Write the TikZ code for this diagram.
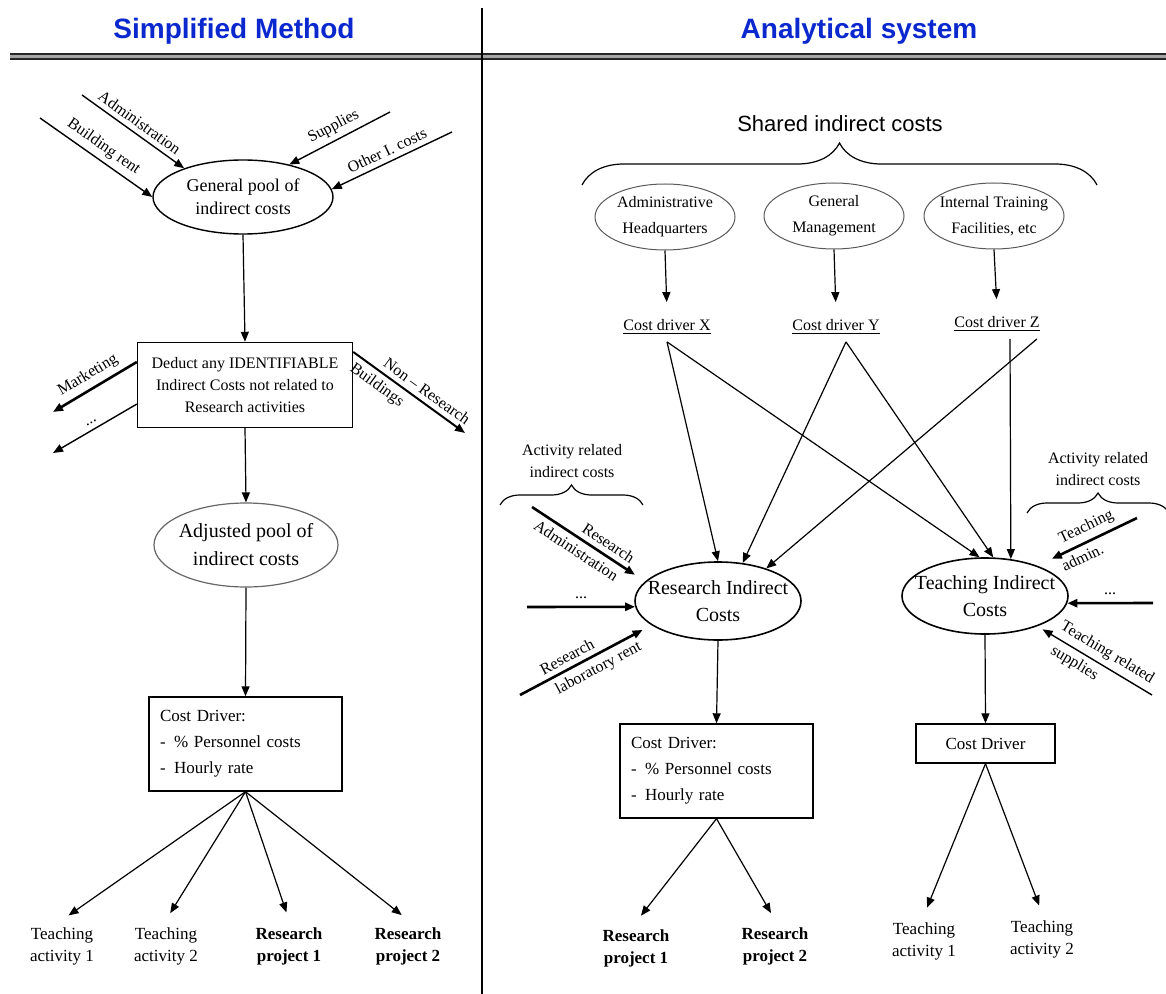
\documentclass[tikz,border=0pt]{standalone}
\usepackage{fontspec}
\setmainfont{Liberation Serif}
\setsansfont{Liberation Sans}
\usetikzlibrary{shapes.geometric, arrows.meta, decorations.pathreplacing}
\definecolor{headblue}{RGB}{10,40,205}

\begin{document}
\begin{tikzpicture}[x=0.5pt, y=-0.5pt, line width=0.6pt,
      >={Triangle[length=5pt,width=4pt]},
      every node/.style={font=\fontsize{8}{11}\selectfont},
      pool/.style={ellipse, draw, align=center, inner xsep=-12pt, inner ysep=-4pt},
      shared/.style={pool, draw=black!65, line width=0.5pt, minimum width=70pt, minimum height=33pt, font=\fontsize{8}{13}\selectfont},
      box/.style={rectangle, draw, line width=0.7pt},
      driver/.style={box, minimum width=96.5pt, minimum height=47pt, text width=85.5pt, inner xsep=5.5pt, align=left, font=\fontsize{8.5}{13}\selectfont},
      leaf/.style={align=center, font=\fontsize{8.5}{11}\selectfont},
      leafb/.style={leaf, font=\bfseries\fontsize{8.5}{11}\selectfont},
      tag/.style={sloped, inner sep=2.5pt, font=\fontsize{8}{10}\selectfont},
      feed/.style={->, line width=0.7pt},
      heavy/.style={->, line width=1.3pt},
      sprout/.style={->, shorten >=4pt},
      head/.style={font=\sffamily\bfseries\fontsize{14}{16}\selectfont, text=headblue},
      brc/.style={decorate, decoration={brace, amplitude=#1}, line width=0.6pt}]

  \useasboundingbox (0,0) rectangle (1166,994);

  % headings and frame
  \node[head] (hs) at (234,31) {Simplified Method};
  \node[head] (ha) at (859,31) {Analytical system};
  \draw[line width=3pt, black!35] (10,56.5) -- (1166,56.5);
  \draw[line width=0.8pt, black!85] (10,54) -- (1166,54) (10,59) -- (1166,59);
  \draw[line width=1pt] (482,8) -- (482,994);

  % simplified method
  \node[pool, minimum width=90pt, minimum height=37pt, line width=0.7pt,
        font=\fontsize{9}{11.5}\selectfont] (gp) at (243,197) {General pool of\\indirect costs};
  \node[box, minimum width=107.5pt, minimum height=42.5pt, align=center,
        font=\fontsize{8}{11.2}\selectfont] (dd) at (245,385)
        {Deduct any IDENTIFIABLE\\Indirect Costs not related to\\Research activities};
  \node[pool, draw=black!60, minimum width=92pt, minimum height=42pt,
        font=\fontsize{10}{14}\selectfont] (ap) at (246,545) {Adjusted pool of\\indirect costs};
  \node[driver] (cd1) at (245.5,744) {Cost Driver:\\-\enspace\% Personnel costs\\-\enspace Hourly rate};
  \node[leaf] (ta1) at (62,946) {Teaching\\activity 1};
  \node[leaf] (ta2) at (166,946) {Teaching\\activity 2};
  \node[leafb] (rp1) at (289,946) {Research\\project 1};
  \node[leafb] (rp2) at (408,946) {Research\\project 2};

  \coordinate (adm) at (82,95);
  \coordinate (bld) at (40,118);
  \coordinate (sup) at (390,112);
  \coordinate (oth) at (452,132);
  \coordinate (mkt) at (53,412);
  \coordinate (dots1) at (53,453);
  \coordinate (nrb) at (465,433);

  \draw[feed] (adm) -- (gp.154) node[midway, tag, above] {Administration};
  \draw[feed] (bld) -- (gp.180) node[midway, tag, above] {Building rent};
  \draw[feed] (sup) -- (gp.35) node[midway, tag, above] {Supplies};
  \draw[feed] (oth) -- (gp.5) node[midway, tag, above] {Other I. costs};
  \draw[->] (gp.south) -- (dd.north);
  \draw[heavy] (dd.168) -- (mkt) node[midway, tag, above] {Marketing};
  \draw[feed] (dd.190) -- (dots1) node[midway, tag, above] {...};
  \draw[->, line width=1pt] (dd.17) -- (nrb) node[pos=0.6, tag, above] {Non -- Research}
        node[pos=0.28, tag, below] {Buildings};
  \draw[->] (dd.south) -- (ap.north);
  \draw[->] (ap.south) -- (cd1.north);
  \draw[sprout] (cd1.south) -- (ta1.north);
  \draw[sprout] (cd1.south) -- (ta2.north);
  \draw[sprout] (cd1.south) -- (rp1.north);
  \draw[sprout] (cd1.south) -- (rp2.north);

  % analytical system
  \node[font=\sffamily\fontsize{11}{13}\selectfont] (sh) at (840,124) {Shared indirect costs};
  \coordinate (shl) at (582,185);
  \coordinate (shr) at (1097,185);
  \draw[brc=21pt] (shl) -- (shr);

  \node[shared] (ah) at (665,217) {Administrative\\Headquarters};
  \node[shared] (gm) at (834,216) {General\\Management};
  \node[shared] (it) at (994,216) {Internal Training\\Facilities, etc};
  \node (cx) at (667,327) {\underline{Cost driver X}};
  \node (cy) at (836,327) {\underline{Cost driver Y}};
  \node (cz) at (997,324) {\underline{Cost driver Z}};

  \node[pool, minimum width=83pt, minimum height=39pt, line width=0.8pt,
        font=\fontsize{10}{13.5}\selectfont] (ri) at (718,601) {Research Indirect\\Costs};
  \node[pool, minimum width=83pt, minimum height=38pt, line width=0.8pt,
        font=\fontsize{10}{13.5}\selectfont] (ti) at (985,596) {Teaching Indirect\\Costs};

  \node[align=center] (ar1) at (572,461) {Activity related\\indirect costs};
  \coordinate (ar1l) at (500,505);
  \coordinate (ar1r) at (643,505);
  \draw[brc=10pt] (ar1l) -- (ar1r);
  \node[align=center] (ar2) at (1098,469) {Activity related\\indirect costs};
  \coordinate (ar2l) at (1027,513);
  \coordinate (ar2r) at (1169,513);
  \draw[brc=10pt] (ar2l) -- (ar2r);

  \draw[->, shorten >=5pt] (ah.south) -- (cx.north);
  \draw[->, shorten >=5pt] (gm.south) -- (cy.north);
  \draw[->, shorten >=5pt] (it.south) -- (cz.north);
  \draw[->] (cx.south) -- (ri.90);
  \draw[->] (cx.south) -- (ti.98);
  \draw[->] ([xshift=5pt]cy.south) -- (ri.57);
  \draw[->] ([xshift=5pt]cy.south) -- (ti.78);
  \draw[->] ([xshift=20pt]cz.south) -- (ri.34);
  \draw[->] ([xshift=6.5pt]cz.south) -- (ti.55);

  \coordinate (rad) at (532,507);
  \coordinate (rdots) at (527,607);
  \coordinate (rlab) at (520,695);
  \coordinate (tad) at (1137,518);
  \coordinate (tdots) at (1153,603);
  \coordinate (tsup) at (1152,695);

  \draw[heavy, shorten >=6pt] (rad) -- (ri.165) node[pos=0.62, tag, above] {Research}
        node[pos=0.45, tag, below] {Administration};
  \draw[heavy] (rdots) -- (ri.184) node[midway, above] {...};
  \draw[heavy, shorten >=5pt] (rlab) -- (ri.200) node[pos=0.4, tag, above] {Research}
        node[pos=0.55, tag, below] {laboratory rent};
  \draw[heavy, shorten >=8pt] (tad) -- (ti.30) node[pos=0.45, tag, above] {Teaching}
        node[pos=0.6, tag, below] {admin.};
  \draw[heavy] (tdots) -- (ti.-5) node[midway, above] {...};
  \draw[feed, shorten >=3pt] (tsup) -- (ti.-30) node[pos=0.45, tag, above] {Teaching related}
        node[pos=0.62, tag, below] {supplies};

  \node[driver] (cd2) at (716.5,771) {Cost Driver:\\-\enspace\% Personnel costs\\-\enspace Hourly rate};
  \node[box, minimum width=69.5pt, minimum height=19.5pt,
        font=\fontsize{8.5}{11}\selectfont] (cd3) at (985.5,743.5) {Cost Driver};
  \node[leafb] (rp3) at (636,948) {Research\\project 1};
  \node[leafb] (rp4) at (775,946) {Research\\project 2};
  \node[leaf] (ta3) at (924,941) {Teaching\\activity 1};
  \node[leaf] (ta4) at (1042,939) {Teaching\\activity 2};

  \draw[->] (ri.south) -- (cd2.north);
  \draw[->] (ti.south) -- (cd3.north);
  \draw[sprout] (cd2.south) -- (rp3.north);
  \draw[sprout] (cd2.south) -- (rp4.north);
  \draw[sprout] (cd3.south) -- (ta3.north);
  \draw[sprout] (cd3.south) -- (ta4.north);
\end{tikzpicture}
\end{document}
